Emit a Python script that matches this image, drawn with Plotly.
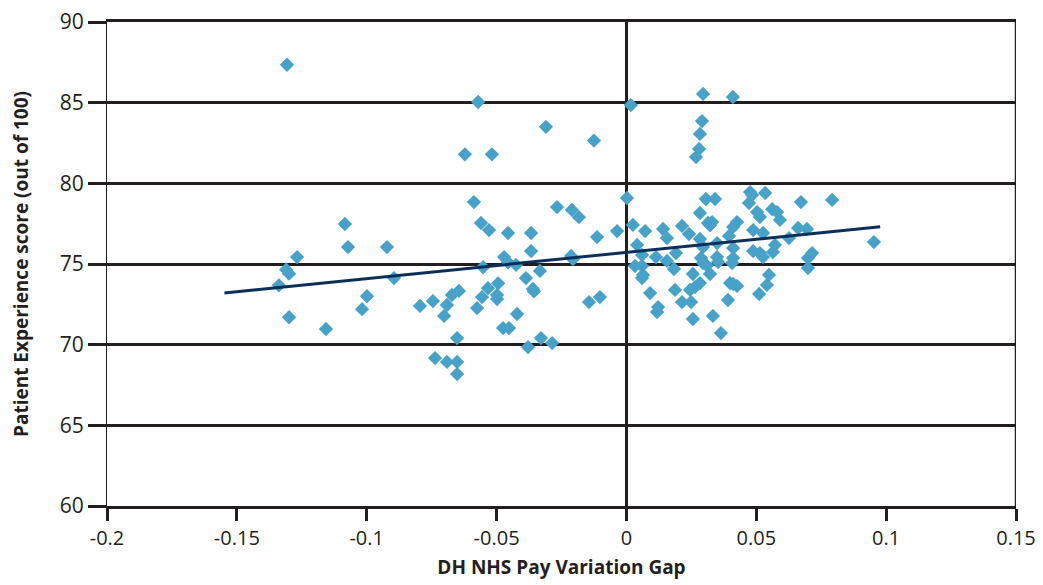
import plotly.graph_objects as go

# Scatter data: DH NHS Pay Variation Gap vs Patient Experience score
pay_gap = [
    -0.1307, -0.1268, -0.1310, -0.1299, -0.1338, -0.1299, -0.1157, -0.1084, -0.1072, -0.0922,
    -0.0895, -0.0999, -0.1018, -0.0795, -0.0745, -0.0737, -0.0691, -0.0652, -0.0652, -0.0652,
    -0.0691, -0.0702, -0.0672, -0.0645, -0.0556, -0.0575, -0.0571, -0.0310, -0.0622, -0.0518,
    -0.0587, -0.0560, -0.0529, -0.0456, -0.0367, -0.0267, -0.0210, -0.0183, -0.0113, -0.0036,
    -0.0367, -0.0471, -0.0456, -0.0425, -0.0552, -0.0213, -0.0206, -0.0333, -0.0387, -0.0360,
    -0.0356, -0.0494, -0.0533, -0.0498, -0.0498, -0.0421, -0.0475, -0.0452, -0.0379, -0.0329,
    -0.0286, -0.0144, -0.0102, -0.0125,
    0.0002, 0.0017, 0.0295, 0.0410, 0.0291, 0.0283, 0.0280, 0.0268, 0.0025, 0.0072,
    0.0141, 0.0156, 0.0214, 0.0241, 0.0283, 0.0295, 0.0283, 0.0306, 0.0341, 0.0314,
    0.0322, 0.0041, 0.0060, 0.0114, 0.0156, 0.0191, 0.0033, 0.0060, 0.0183, 0.0064,
    0.0060, 0.0091, 0.0122, 0.0118, 0.0187, 0.0214, 0.0249, 0.0256, 0.0245, 0.0264,
    0.0283, 0.0256, 0.0287, 0.0295, 0.0322, 0.0333, 0.0349, 0.0476, 0.0484, 0.0534,
    0.0472, 0.0672, 0.0792, 0.0503, 0.0514, 0.0561, 0.0580, 0.0591, 0.0426, 0.0411,
    0.0330, 0.0488, 0.0526, 0.0661, 0.0695, 0.0626, 0.0395, 0.0349, 0.0411, 0.0572,
    0.0564, 0.0488, 0.0514, 0.0526, 0.0353, 0.0411, 0.0407, 0.0715, 0.0699, 0.0699,
    0.0549, 0.0541, 0.0511, 0.0399, 0.0411, 0.0426, 0.0391, 0.0364, 0.0953, 0.0310,
]
patient_score = [
    87.35, 75.43, 74.65, 74.40, 73.68, 71.70, 70.97, 77.48, 76.05, 76.05,
    74.13, 73.00, 72.20, 72.40, 72.70, 69.17, 68.93, 68.93, 68.18, 70.41,
    72.46, 71.78, 73.08, 73.33, 72.95, 72.27, 85.04, 83.50, 81.80, 81.80,
    78.84, 77.54, 77.10, 76.92, 76.92, 78.53, 78.35, 77.90, 76.67, 77.04,
    75.80, 75.43, 75.10, 74.94, 74.80, 75.50, 75.30, 74.57, 74.13, 73.45,
    73.30, 73.80, 73.50, 73.08, 72.83, 71.90, 71.03, 71.03, 69.85, 70.41,
    70.10, 72.64, 72.95, 82.65,
    79.09, 84.85, 85.54, 85.35, 83.86, 83.06, 82.13, 81.63, 77.42, 77.04,
    77.17, 76.61, 77.36, 76.86, 76.55, 76.05, 78.16, 79.03, 79.03, 77.54,
    77.40, 76.18, 75.56, 75.43, 75.19, 75.68, 74.88, 74.88, 74.69, 74.32,
    74.13, 73.20, 72.33, 72.02, 73.39, 72.64, 72.64, 74.38, 73.39, 73.57,
    73.82, 71.59, 75.37, 75.06, 74.38, 71.78, 75.43, 79.46, 79.28, 79.40,
    78.78, 78.84, 78.97, 78.22, 77.91, 78.40, 78.22, 77.73, 77.60, 77.30,
    77.60, 77.10, 76.92, 77.23, 77.17, 76.61, 76.74, 76.30, 75.99, 76.18,
    75.74, 75.80, 75.68, 75.43, 75.12, 75.37, 75.06, 75.68, 75.37, 74.75,
    74.32, 73.70, 73.14, 73.82, 73.76, 73.64, 72.77, 70.72, 76.36, 74.90,
]

# Linear trend line end points
trend_x = [-0.1548, 0.0977]
trend_y = [73.20, 77.31]

x_tick_vals = [-0.2, -0.15, -0.1, -0.05, 0, 0.05, 0.1, 0.15]
x_tick_text = ["-0.2", "-0.15", "-0.1", "-0.05", "0", "0.05", "0.1", "0.15"]
y_tick_vals = [60, 65, 70, 75, 80, 85, 90]

INK = "#231f20"
FONT = "Open Sans"

fig = go.Figure()
fig.add_trace(go.Scatter(
    x=pay_gap, y=patient_score, mode="markers",
    marker=dict(symbol="diamond", size=11, color="#47a2ca", line=dict(width=0)),
    showlegend=False, hoverinfo="x+y",
))
fig.add_trace(go.Scatter(
    x=trend_x, y=trend_y, mode="lines",
    line=dict(color="#0b2e5a", width=3),
    showlegend=False, hoverinfo="skip",
))

fig.add_shape(type="line", xref="x", yref="y", x0=0.15, x1=0.15, y0=60, y1=90,
              line=dict(color=INK, width=2.5), layer="above")

fig.update_layout(
    width=1035, height=577,
    margin=dict(l=99, r=27, t=14, b=79),
    paper_bgcolor="white", plot_bgcolor="white",
    font=dict(family=FONT, color=INK, size=20),
    xaxis=dict(
        range=[-0.2, 0.15], automargin=False, ticklabeloverflow="allow",
        tickvals=x_tick_vals, ticktext=x_tick_text,
        ticks="outside", ticklen=12, tickwidth=2.5, tickcolor=INK,
        showgrid=False,
        zeroline=True, zerolinecolor=INK, zerolinewidth=2.5,
        showline=True, linecolor=INK, linewidth=2.5, mirror=True,
        tickfont=dict(size=20, family=FONT, color=INK),
        title=dict(text="<b>DH NHS Pay Variation Gap</b>",
                   font=dict(size=19, family=FONT, color=INK), standoff=11),
    ),
    yaxis=dict(
        range=[60, 90], automargin=False, ticklabeloverflow="allow",
        tickvals=y_tick_vals,
        ticks="outside", ticklen=18, tickwidth=2.5, tickcolor=INK,
        showgrid=True, gridcolor=INK, gridwidth=2.5,
        zeroline=False,
        showline=True, linecolor=INK, linewidth=1.2,
        tickfont=dict(size=21, family=FONT, color=INK),
        title=dict(text="<b>Patient Experience score (out of 100)</b>",
                   font=dict(size=19, family=FONT, color=INK), standoff=26),
    ),
)

fig.write_html("out.html")
